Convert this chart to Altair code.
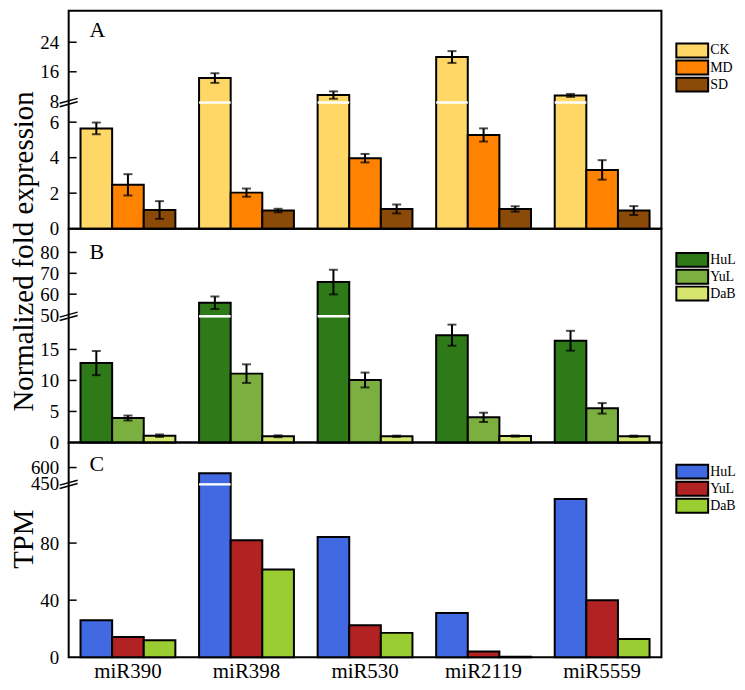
import altair as alt
import pandas as pd

FONT = "Liberation Serif"

genes = ["miR390", "miR398", "miR530", "miR2119", "miR5559"]

# Panel A: drought treatment (qRT-PCR)
a_series = ["CK", "MD", "SD"]
a_colors = ["#FFD766", "#FF8300", "#8C4A08"]
a_ck = [5.65, 14.3, 9.7, 20.0, 9.6]
a_ck_err = [0.33, 1.3, 1.0, 1.6, 0.4]
a_md = [2.47, 2.03, 3.97, 5.28, 3.31]
a_md_err = [0.6, 0.23, 0.24, 0.37, 0.55]
a_sd = [1.05, 1.02, 1.11, 1.11, 1.02]
a_sd_err = [0.5, 0.1, 0.25, 0.15, 0.25]
a_ticks = [0, 2, 4, 6, 8, 16, 24]

# Panel B: populations (qRT-PCR)
b_series = ["HuL", "YuL", "DaB"]
b_colors = ["#2E7A18", "#7BAF3F", "#D5E56E"]
b_hul = [12.8, 55.9, 65.8, 17.3, 16.4]
b_hul_err = [1.95, 3.0, 5.9, 1.7, 1.6]
b_yul = [3.94, 11.1, 10.07, 4.05, 5.5]
b_yul_err = [0.4, 1.5, 1.2, 0.75, 0.85]
b_dab = [1.09, 1.0, 1.0, 1.03, 1.0]
b_dab_err = [0.2, 0.15, 0.1, 0.1, 0.1]
b_ticks = [0, 5, 10, 15, 50, 60, 70, 80]

# Panel C: sequencing TPM
c_series = ["HuL", "YuL", "DaB"]
c_colors = ["#4169E1", "#B22222", "#9ACD32"]
c_hul = [25.9, 545, 84.2, 31.1, 110.8]
c_yul = [14.2, 82, 22.5, 4.05, 39.9]
c_dab = [12.0, 61.5, 17.1, 0.4, 12.8]
c_ticks = [0, 40, 80, 450, 600]


def long_df(series, vals, errs=None):
    rows = []
    for si, s in enumerate(series):
        for gi, g in enumerate(genes):
            r = {"gene": g, "series": s, "value": vals[si][gi]}
            if errs is not None:
                r["lo"] = vals[si][gi] - errs[si][gi]
                r["hi"] = vals[si][gi] + errs[si][gi]
            rows.append(r)
    return pd.DataFrame(rows)


dfA = long_df(a_series, [a_ck, a_md, a_sd], [a_ck_err, a_md_err, a_sd_err])
dfB = long_df(b_series, [b_hul, b_yul, b_dab], [b_hul_err, b_yul_err, b_dab_err])
dfC = long_df(c_series, [c_hul, c_yul, c_dab])

W = 596
SWATCH = "M-1,-0.4375H1V0.4375H-1Z"   # 32 x 14 at size 1024
LEG_SW_X = 627     # swatch centre, px from plot left
LEG_TX_X = 645     # label start


def panel(df, series, colors, ticks, domain, rng, H, letter, letter_y,
          leg_y0, leg_y1, has_err, x_labels, title=None, title_y=None):
    yscale = alt.Scale(domain=domain, range=rng, nice=False, zero=False)
    yaxis = alt.Axis(values=ticks, title=None, labelFont=FONT,
                     labelFontSize=19, labelColor="black",
                     ticks=False, domain=False, grid=False,
                     labelPadding=10, labelOverlap=False,
                     labelFlush=False)
    xaxis = (alt.Axis(title=None, labelFont=FONT, labelFontSize=21,
                      labelColor="black", ticks=False, domain=False,
                      labelPadding=3, labelAngle=0)
             if x_labels else None)
    cscale = alt.Scale(domain=series, range=colors)
    xenc = alt.X("gene:N", sort=genes,
                 scale=alt.Scale(paddingInner=0.2, paddingOuter=0.1),
                 axis=xaxis)
    xoff = alt.XOffset("series:N", sort=series,
                       scale=alt.Scale(paddingInner=0, paddingOuter=0))
    base = alt.Chart(df)
    bars = base.mark_bar(stroke="black", strokeWidth=2).encode(
        x=xenc, xOffset=xoff,
        y=alt.Y("value:Q", scale=yscale, axis=yaxis),
        color=alt.Color("series:N", sort=series, scale=cscale, legend=None),
    )
    gap = base.transform_filter(
        alt.datum.value > domain[2]
    ).transform_calculate(
        gl=str(domain[1]), gh=str(domain[2])
    ).mark_bar(color="white", strokeWidth=0).encode(
        x=xenc, xOffset=xoff,
        y=alt.Y("gl:Q", scale=yscale, axis=yaxis), y2="gh:Q")
    layers = [bars, gap]
    if has_err:
        layers.append(base.mark_rule(color="black", strokeWidth=2).encode(
            x=xenc, xOffset=xoff,
            y=alt.Y("lo:Q", scale=yscale, axis=yaxis), y2="hi:Q"))
        for f in ["lo", "hi"]:
            layers.append(base.mark_tick(color="black", thickness=2,
                                         size=9, orient="horizontal").encode(
                x=xenc, xOffset=xoff,
                y=alt.Y(f + ":Q", scale=yscale, axis=yaxis)))
    tick_df = pd.DataFrame({"v": [t for t in ticks if t not in (0, domain[2])]})
    layers.append(alt.Chart(tick_df).mark_rule(color="black", strokeWidth=1.5).encode(
        y=alt.Y("v:Q", scale=yscale, axis=yaxis),
        x=alt.value(0), x2=alt.value(8)))
    yc = (rng[1] + rng[2]) / 2.0
    one = alt.Data(values=[{"k": 1}])
    for d in (-1.7, 1.7):
        layers.append(alt.Chart(one).mark_rule(color="black", strokeWidth=1.5).encode(
            x=alt.value(-9), x2=alt.value(9),
            y=alt.value(yc + d + 2.5), y2=alt.value(yc + d - 2.5)))
    layers.append(alt.Chart(one).mark_text(
        text=letter, font=FONT, fontSize=22, align="left",
        baseline="alphabetic", color="black").encode(
        x=alt.value(21), y=alt.value(letter_y)))
    if title:
        layers.append(alt.Chart(one).mark_text(
            text=title, font=FONT, fontSize=29, angle=270, align="center",
            baseline="alphabetic", color="black").encode(
            x=alt.value(-36), y=alt.value(title_y)))
    main = alt.layer(*layers)

    # legend drawn from the series list through a point scale
    leg_df = pd.DataFrame({"series": series})
    lscale = alt.Scale(type="point", domain=series, range=[leg_y0, leg_y1],
                       padding=0)
    leg_base = alt.Chart(leg_df)
    sw = leg_base.mark_point(shape=SWATCH, size=1024, filled=True,
                             stroke="black", strokeWidth=2, opacity=1).encode(
        x=alt.value(LEG_SW_X),
        y=alt.Y("series:N", sort=series, scale=lscale, axis=None),
        color=alt.Color("series:N", sort=series, scale=cscale, legend=None))
    tx = leg_base.mark_text(align="left", baseline="middle", font=FONT,
                            fontSize=14, color="black").encode(
        x=alt.value(LEG_TX_X),
        y=alt.Y("series:N", sort=series, scale=lscale, axis=None),
        text="series:N")
    legend = alt.layer(sw, tx)
    return alt.layer(main, legend).resolve_scale(y="independent").properties(
        width=W, height=H)


HA, HB, HC = 219, 215, 216
pA = panel(dfA, a_series, a_colors, a_ticks, [0, 7.04, 8, 32.5],
           [HA, 93.4, 91.0, 0], HA, "A", 26.0, 39.9, 74.2, True, False,
           "Normalized fold expression", 241.9)
pB = panel(dfB, b_series, b_colors, b_ticks, [0, 20.14, 50, 91.4],
           [HB, 89.4, 86.9, 0], HB, "B", 30.1, 31.4, 65.3, True, False)
pC = panel(dfC, c_series, c_colors, c_ticks, [0, 120.3, 450, 841],
           [HC, 43.3, 40.9, 0], HC, "C", 28.8, 29.3, 63.7, False, True,
           "TPM", 97.2)

chart = alt.vconcat(pA, pB, pC, spacing=0, bounds="flush").resolve_scale(
    color="independent", x="independent", y="independent",
    xOffset="independent"
).properties(
    padding={"left": 0, "top": 0, "right": 0, "bottom": 0}
).configure_view(stroke="black", strokeWidth=2).configure_axis(
    labelOverlap=False
)

chart.save("out.html", embed_options={"renderer": "svg", "actions": False})
